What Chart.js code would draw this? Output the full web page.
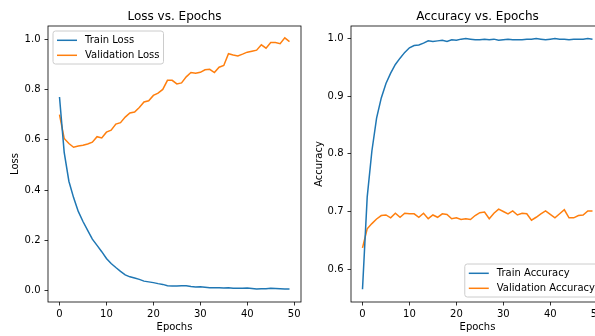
<!DOCTYPE html>
<html><head><meta charset="utf-8">
<script src="https://cdn.jsdelivr.net/npm/chart.js@4.4.1/dist/chart.umd.min.js"></script>
<style>
html,body{margin:0;padding:0;width:595px;height:336px;overflow:hidden;background:#fff;}
#wrap{position:relative;width:595px;height:336px;overflow:hidden;}
#c1{position:absolute;left:0;top:0;}
#c2{position:absolute;left:300px;top:0;}
</style></head><body>
<div id="wrap"><canvas id="c1" width="330" height="336"></canvas><canvas id="c2" width="330" height="336"></canvas></div>
<script>
const epochs = [0,1,2,3,4,5,6,7,8,9,10,11,12,13,14,15,16,17,18,19,20,21,22,23,24,25,26,27,28,29,30,31,32,33,34,35,36,37,38,39,40,41,42,43,44,45,46,47,48,49];
const trainLoss = [0.77,0.55,0.435,0.37,0.315,0.275,0.24,0.205,0.18,0.155,0.128,0.108,0.092,0.077,0.063,0.055,0.05,0.045,0.038,0.035,0.032,0.028,0.025,0.02,0.019,0.019,0.02,0.02,0.017,0.015,0.016,0.014,0.012,0.012,0.012,0.011,0.012,0.01,0.01,0.01,0.011,0.009,0.007,0.008,0.008,0.01,0.009,0.008,0.007,0.007];
const valLoss = [0.70,0.605,0.585,0.57,0.575,0.578,0.583,0.59,0.612,0.607,0.63,0.638,0.662,0.668,0.69,0.706,0.71,0.728,0.75,0.755,0.776,0.785,0.8,0.836,0.836,0.822,0.826,0.85,0.867,0.864,0.868,0.878,0.88,0.867,0.888,0.895,0.942,0.937,0.933,0.94,0.948,0.952,0.956,0.977,0.964,0.986,0.986,0.982,1.005,0.99];
const trainAcc = [0.565,0.725,0.805,0.862,0.897,0.922,0.94,0.955,0.966,0.976,0.984,0.988,0.989,0.992,0.996,0.995,0.996,0.997,0.995,0.998,0.997,0.999,1.0,0.999,0.998,0.998,0.999,0.998,0.999,0.997,0.998,0.999,0.998,0.998,0.998,0.999,0.999,1.0,0.999,0.998,0.999,1.0,0.999,0.999,0.998,0.999,0.999,0.999,1.0,0.999];
const valAcc = [0.637,0.670,0.679,0.687,0.693,0.694,0.689,0.697,0.690,0.697,0.696,0.696,0.690,0.697,0.6875,0.694,0.690,0.696,0.695,0.6875,0.689,0.686,0.6875,0.686,0.693,0.698,0.699,0.6875,0.697,0.704,0.700,0.696,0.701,0.694,0.697,0.696,0.685,0.690,0.696,0.701,0.695,0.689,0.696,0.703,0.689,0.689,0.693,0.694,0.701,0.701];
const xTicks = [0,10,20,30,40,50];
const lossTicks = [0.0,0.2,0.4,0.6,0.8,1.0];
const accTicks = [0.6,0.7,0.8,0.9,1.0];

Chart.defaults.font.family = '"DejaVu Sans", sans-serif';
Chart.defaults.color = '#000';

const BLUE = '#1f77b4', ORANGE = '#ff7f0e';

const framePlugin = {
  id: 'frame',
  afterDatasetsDraw(chart) {
    const {ctx, chartArea: a} = chart;
    ctx.save();
    ctx.strokeStyle = '#000';
    ctx.lineWidth = 0.8;
    ctx.strokeRect(a.left, a.top, a.right - a.left, a.bottom - a.top);
    ctx.restore();
  }
};

const legendPlugin = {
  id: 'mplLegend',
  afterDraw(chart, args, opts) {
    const {ctx, chartArea: a} = chart;
    const items = chart.data.datasets.map(d => ({label: d.label, color: d.borderColor}));
    ctx.save();
    ctx.font = '10px "DejaVu Sans"';
    const tw = Math.max(...items.map(i => ctx.measureText(i.label).width));
    const w = 4 + 20 + 8 + tw + 4;
    const h = 33;
    let x, y;
    if (opts.loc === 'upper left') { x = a.left + 5; y = a.top + 5; }
    else { x = a.right - 5 - w; y = a.bottom - 5 - h; }
    ctx.beginPath();
    ctx.roundRect(x, y, w, h, 2.5);
    ctx.fillStyle = 'rgba(255,255,255,0.8)';
    ctx.fill();
    ctx.strokeStyle = '#cccccc';
    ctx.lineWidth = 1;
    ctx.stroke();
    items.forEach((it, k) => {
      const cy = y + 9.3 + 15 * k;
      ctx.strokeStyle = it.color;
      ctx.lineWidth = 1.5;
      ctx.beginPath();
      ctx.moveTo(x + 4, cy);
      ctx.lineTo(x + 24, cy);
      ctx.stroke();
      ctx.fillStyle = '#000';
      ctx.textBaseline = 'middle';
      ctx.textAlign = 'left';
      ctx.fillText(it.label, x + 32, cy);
    });
    ctx.restore();
  }
};

function makeChart(id, cfg) {
  const ds = (label, vals, color) => ({
    label, data: vals.map((v, i) => ({x: epochs[i], y: v})),
    borderColor: color, backgroundColor: color, borderWidth: 1.5,
    pointRadius: 0, tension: 0, fill: false
  });
  return new Chart(document.getElementById(id), {
    type: 'line',
    data: { datasets: [ds(cfg.l1, cfg.d1, BLUE), ds(cfg.l2, cfg.d2, ORANGE)] },
    plugins: [framePlugin, legendPlugin],
    options: {
      responsive: false, animation: false, events: [],
      devicePixelRatio: 1,
      layout: { padding: { left: 0, right: cfg.padRight, top: 0, bottom: 0 } },
      plugins: {
        legend: { display: false },
        tooltip: { enabled: false },
        title: { display: true, text: cfg.title, fullSize: false,
                 font: { size: 12, weight: 'normal' }, color: '#000',
                 padding: { top: 9.6, bottom: 2 } },
        mplLegend: { loc: cfg.loc }
      },
      scales: {
        x: {
          type: 'linear', min: -2.45, max: 51.45,
          afterBuildTicks: s => { s.ticks = xTicks.map(v => ({value: v})); },
          afterFit: s => { s.height = 34; },
          grid: { drawOnChartArea: false, drawTicks: true, tickLength: 3.5, color: '#000', lineWidth: 0.8 },
          border: { display: false },
          ticks: { autoSkip: false, maxRotation: 0, padding: 2.5, font: { size: 10 }, color: '#000',
                   callback: v => String(v) },
          title: { display: true, text: 'Epochs', font: { size: 10 }, color: '#000', padding: { top: 0, bottom: 2.5 } }
        },
        y: {
          type: 'linear', min: cfg.ymin, max: cfg.ymax,
          afterBuildTicks: s => { s.ticks = cfg.yTicks.map(v => ({value: v})); },
          afterFit: s => { s.width = cfg.yWidth; },
          grid: { drawOnChartArea: false, drawTicks: true, tickLength: 3.5, color: '#000', lineWidth: 0.8 },
          border: { display: false },
          ticks: { autoSkip: false, padding: 4, font: { size: 10 }, color: '#000',
                   callback: v => Number(v).toFixed(1) },
          title: { display: true, text: cfg.ylabel, font: { size: 10 }, color: '#000', padding: { top: cfg.yTitlePad, bottom: 0 } }
        }
      }
    }
  });
}

makeChart('c1', {
  title: 'Loss vs. Epochs', ylabel: 'Loss', l1: 'Train Loss', l2: 'Validation Loss',
  d1: trainLoss, d2: valLoss, ymin: -0.045, ymax: 1.052, yTicks: lossTicks,
  yWidth: 48, padRight: 29, yTitlePad: 9.7, loc: 'upper left'
});
makeChart('c2', {
  title: 'Accuracy vs. Epochs', ylabel: 'Accuracy', l1: 'Train Accuracy', l2: 'Validation Accuracy',
  d1: trainAcc, d2: valAcc, ymin: 0.543, ymax: 1.0218, yTicks: accTicks,
  yWidth: 51, padRight: 26, yTitlePad: 13, loc: 'lower right'
});
</script>
</body></html>
